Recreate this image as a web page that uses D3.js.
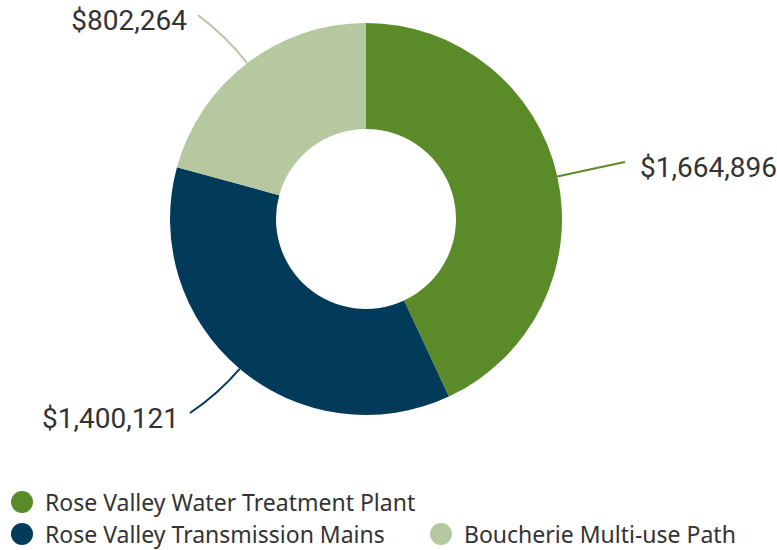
<!DOCTYPE html>
<html>
<head>
<meta charset="utf-8">
<script src="https://cdn.jsdelivr.net/npm/d3@7"></script>
<style>
  body { margin:0; background:#fff; }
  svg { display:block; }
</style>
</head>
<body>
<div id="chart"></div>
<script>
// chart data
const projects = ['Rose Valley Water Treatment Plant','Rose Valley Transmission Mains','Boucherie Multi-use Path'];
const amounts = [1664896, 1400121, 802264];
const colors = ['#5b8a29','#023a5a','#b5c8a0'];

const width = 777, height = 550;
const cx = 366, cy = 219;
const outerR = 196, innerR = 90;

const svg = d3.select('#chart').append('svg')
  .attr('width',width)
  .attr('height',height);

const pie = d3.pie().sort(null).value(d => d.value);
const arcs = pie(amounts.map((v,i) => ({name:projects[i], value:v, color:colors[i]})));

const arc = d3.arc().innerRadius(innerR).outerRadius(outerR);
const edgeArc = d3.arc().innerRadius(outerR).outerRadius(outerR);
const bendArc = d3.arc().innerRadius(outerR+32).outerRadius(outerR+32);

const g = svg.append('g').attr('transform',`translate(${cx},${cy})`);

g.selectAll('path.slice')
  .data(arcs)
  .enter().append('path')
  .attr('class','slice')
  .attr('d',arc)
  .attr('fill',d => d.data.color);

const fmt = d3.format('$,');

// leader lines: start at arc edge, bend outward, finish horizontal
const labelEnds = [[259,-57],[-176,194],[-168,-204]];
arcs.forEach((d,i) => {
  const p0 = edgeArc.centroid(d);
  const p1 = bendArc.centroid(d);
  const p2 = labelEnds[i];
  const path = d3.path();
  path.moveTo(p0[0],p0[1]);
  path.quadraticCurveTo(p1[0],p1[1],p2[0],p2[1]);
  g.append('path')
    .attr('d',path.toString())
    .attr('fill','none')
    .attr('stroke',d.data.color)
    .attr('stroke-width',2);

  const right = p2[0] > 0;
  g.append('text')
    .attr('x',p2[0] + (right ? 15 : -11))
    .attr('y',p2[1] + 15)
    .attr('text-anchor',right ? 'start' : 'end')
    .attr('font-family','Roboto, sans-serif')
    .attr('font-size',28)
    .attr('fill','#333')
    .text(fmt(d.data.value));
});

// legend
const legendPos = [[22,502],[22,534],[441,534]];
const legend = svg.append('g');
projects.forEach((name,i) => {
  const item = legend.append('g')
    .attr('transform',`translate(${legendPos[i][0]},${legendPos[i][1]})`);
  item.append('circle')
    .attr('r',11)
    .attr('fill',colors[i]);
  item.append('text')
    .attr('x',23)
    .attr('y',9)
    .attr('font-family','"Noto Sans", sans-serif')
    .attr('font-size',23)
    .attr('fill','#333')
    .text(name);
});
</script>
</body>
</html>
